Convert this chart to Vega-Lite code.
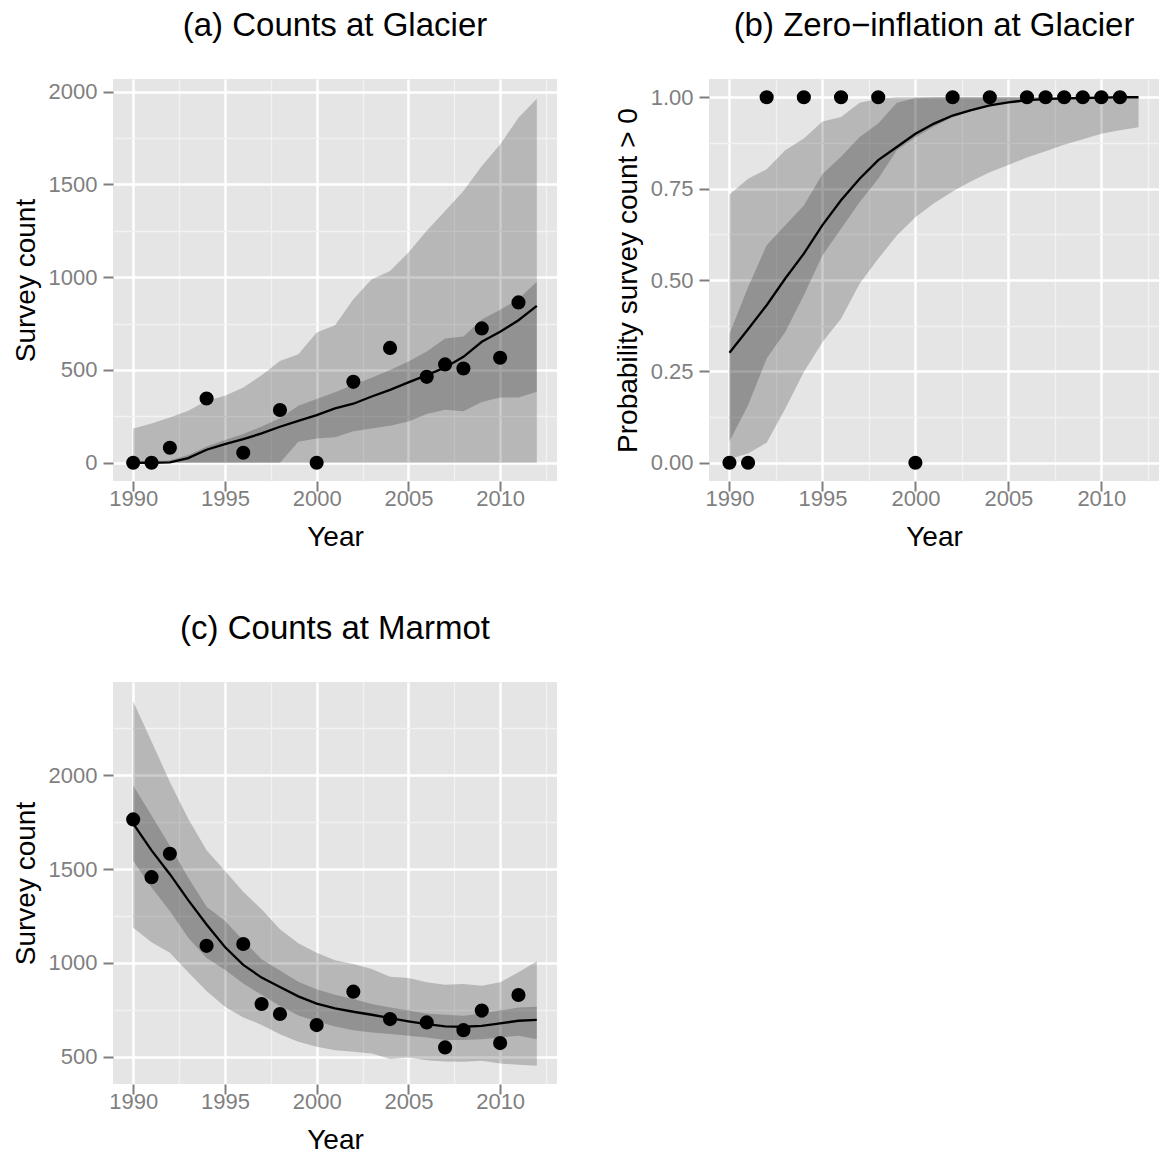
{
  "$schema": "https://vega.github.io/schema/vega-lite/v6.json",
  "padding": {"left": 12, "top": 10, "right": 0, "bottom": 0},
  "background": "white",
  "config": {
    "view": {"fill": "#E5E5E5", "stroke": null},
    "font": "Liberation Sans",
    "axis": {
      "domain": false,
      "grid": true,
      "gridColor": "#FFFFFF",
      "tickColor": "#7F7F7F",
      "tickWidth": 2,
      "tickSize": 10,
      "labelColor": "#7F7F7F",
      "labelFont": "Liberation Sans",
      "labelFontSize": 22,
      "titleFont": "Liberation Sans",
      "titleFontSize": 28,
      "titleFontWeight": "normal",
      "titleColor": "#000000"
    },
    "axisX": {"labelPadding": -3, "titlePadding": 14},
    "axisY": {"labelPadding": 6, "titlePadding": 8},
    "title": {"font": "Liberation Sans", "fontSize": 33, "fontWeight": "normal", "anchor": "middle", "color": "#000000", "offset": 36}
  },
  "datasets": {
    "glacier_band": [
      {"year": 1990, "lo95": 0, "hi95": 185, "lo50": 0, "hi50": 3, "med": 0},
      {"year": 1991, "lo95": 0, "hi95": 212, "lo50": 0, "hi50": 6, "med": 0},
      {"year": 1992, "lo95": 0, "hi95": 244, "lo50": 0, "hi50": 14, "med": 2},
      {"year": 1993, "lo95": 0, "hi95": 280, "lo50": 0, "hi50": 42, "med": 25},
      {"year": 1994, "lo95": 0, "hi95": 334, "lo50": 0, "hi50": 88, "med": 70},
      {"year": 1995, "lo95": 0, "hi95": 361, "lo50": 0, "hi50": 122, "med": 100},
      {"year": 1996, "lo95": 0, "hi95": 406, "lo50": 0, "hi50": 155, "med": 127},
      {"year": 1997, "lo95": 0, "hi95": 472, "lo50": 0, "hi50": 195, "med": 158},
      {"year": 1998, "lo95": 0, "hi95": 549, "lo50": 0, "hi50": 240, "med": 194},
      {"year": 1999, "lo95": 0, "hi95": 585, "lo50": 113, "hi50": 307, "med": 226},
      {"year": 2000, "lo95": 0, "hi95": 702, "lo50": 131, "hi50": 343, "med": 257},
      {"year": 2001, "lo95": 0, "hi95": 741, "lo50": 138, "hi50": 380, "med": 293},
      {"year": 2002, "lo95": 0, "hi95": 881, "lo50": 170, "hi50": 420, "med": 318},
      {"year": 2003, "lo95": 0, "hi95": 989, "lo50": 185, "hi50": 458, "med": 357},
      {"year": 2004, "lo95": 0, "hi95": 1034, "lo50": 200, "hi50": 500, "med": 393},
      {"year": 2005, "lo95": 0, "hi95": 1133, "lo50": 222, "hi50": 545, "med": 433},
      {"year": 2006, "lo95": 0, "hi95": 1250, "lo50": 262, "hi50": 600, "med": 472},
      {"year": 2007, "lo95": 0, "hi95": 1357, "lo50": 285, "hi50": 670, "med": 513},
      {"year": 2008, "lo95": 0, "hi95": 1465, "lo50": 278, "hi50": 680, "med": 571},
      {"year": 2009, "lo95": 0, "hi95": 1600, "lo50": 328, "hi50": 772, "med": 652},
      {"year": 2010, "lo95": 0, "hi95": 1716, "lo50": 352, "hi50": 825, "med": 706},
      {"year": 2011, "lo95": 0, "hi95": 1860, "lo50": 352, "hi50": 882, "med": 768},
      {"year": 2012, "lo95": 0, "hi95": 1962, "lo50": 383, "hi50": 975, "med": 846}
    ],
    "glacier_obs": [
      {"year": 1990, "count": 0},
      {"year": 1991, "count": 0},
      {"year": 1992, "count": 81},
      {"year": 1994, "count": 346},
      {"year": 1996, "count": 54},
      {"year": 1998, "count": 284},
      {"year": 2000, "count": 0},
      {"year": 2002, "count": 436},
      {"year": 2004, "count": 619},
      {"year": 2006, "count": 463},
      {"year": 2007, "count": 530},
      {"year": 2008, "count": 508},
      {"year": 2009, "count": 724},
      {"year": 2010, "count": 566},
      {"year": 2011, "count": 864}
    ],
    "zi_band": [
      {"year": 1990, "lo95": 0.01, "hi95": 0.734, "lo50": 0.058, "hi50": 0.353, "med": 0.301},
      {"year": 1991, "lo95": 0.025, "hi95": 0.777, "lo50": 0.157, "hi50": 0.48, "med": 0.365},
      {"year": 1992, "lo95": 0.055, "hi95": 0.803, "lo50": 0.285, "hi50": 0.595, "med": 0.431},
      {"year": 1993, "lo95": 0.148, "hi95": 0.855, "lo50": 0.358, "hi50": 0.65, "med": 0.504},
      {"year": 1994, "lo95": 0.248, "hi95": 0.887, "lo50": 0.458, "hi50": 0.704, "med": 0.572},
      {"year": 1995, "lo95": 0.33, "hi95": 0.934, "lo50": 0.567, "hi50": 0.79, "med": 0.65},
      {"year": 1996, "lo95": 0.394, "hi95": 0.946, "lo50": 0.64, "hi50": 0.837, "med": 0.718},
      {"year": 1997, "lo95": 0.49, "hi95": 0.985, "lo50": 0.713, "hi50": 0.891, "med": 0.777},
      {"year": 1998, "lo95": 0.558, "hi95": 0.996, "lo50": 0.777, "hi50": 0.928, "med": 0.828},
      {"year": 1999, "lo95": 0.622, "hi95": 1.0, "lo50": 0.855, "hi50": 0.985, "med": 0.864},
      {"year": 2000, "lo95": 0.672, "hi95": 1.0, "lo50": 0.89, "hi50": 0.998, "med": 0.9},
      {"year": 2001, "lo95": 0.71, "hi95": 1.0, "lo50": 0.92, "hi50": 1.0, "med": 0.928},
      {"year": 2002, "lo95": 0.742, "hi95": 1.0, "lo50": 0.945, "hi50": 1.0, "med": 0.95},
      {"year": 2003, "lo95": 0.77, "hi95": 1.0, "lo50": 0.962, "hi50": 1.0, "med": 0.965},
      {"year": 2004, "lo95": 0.795, "hi95": 1.0, "lo50": 0.975, "hi50": 1.0, "med": 0.978},
      {"year": 2005, "lo95": 0.815, "hi95": 1.0, "lo50": 0.984, "hi50": 1.0, "med": 0.986},
      {"year": 2006, "lo95": 0.835, "hi95": 1.0, "lo50": 0.99, "hi50": 1.0, "med": 0.992},
      {"year": 2007, "lo95": 0.852, "hi95": 1.0, "lo50": 0.994, "hi50": 1.0, "med": 0.995},
      {"year": 2008, "lo95": 0.87, "hi95": 1.0, "lo50": 0.996, "hi50": 1.0, "med": 0.997},
      {"year": 2009, "lo95": 0.885, "hi95": 1.0, "lo50": 0.998, "hi50": 1.0, "med": 0.998},
      {"year": 2010, "lo95": 0.9, "hi95": 1.0, "lo50": 0.999, "hi50": 1.0, "med": 0.999},
      {"year": 2011, "lo95": 0.91, "hi95": 1.0, "lo50": 1.0, "hi50": 1.0, "med": 1.0},
      {"year": 2012, "lo95": 0.918, "hi95": 1.0, "lo50": 1.0, "hi50": 1.0, "med": 1.0}
    ],
    "zi_obs": [
      {"year": 1990, "p": 0},
      {"year": 1991, "p": 0},
      {"year": 1992, "p": 1},
      {"year": 1994, "p": 1},
      {"year": 1996, "p": 1},
      {"year": 1998, "p": 1},
      {"year": 2000, "p": 0},
      {"year": 2002, "p": 1},
      {"year": 2004, "p": 1},
      {"year": 2006, "p": 1},
      {"year": 2007, "p": 1},
      {"year": 2008, "p": 1},
      {"year": 2009, "p": 1},
      {"year": 2010, "p": 1},
      {"year": 2011, "p": 1}
    ],
    "marmot_band": [
      {"year": 1990, "lo95": 1187, "hi95": 2393, "lo50": 1545, "hi50": 1946, "med": 1742},
      {"year": 1991, "lo95": 1110, "hi95": 2180, "lo50": 1402, "hi50": 1786, "med": 1600},
      {"year": 1992, "lo95": 1055, "hi95": 1964, "lo50": 1277, "hi50": 1625, "med": 1473},
      {"year": 1993, "lo95": 950, "hi95": 1768, "lo50": 1134, "hi50": 1455, "med": 1335},
      {"year": 1994, "lo95": 850, "hi95": 1600, "lo50": 1027, "hi50": 1300, "med": 1205},
      {"year": 1995, "lo95": 766, "hi95": 1491, "lo50": 964, "hi50": 1225, "med": 1085},
      {"year": 1996, "lo95": 710, "hi95": 1380, "lo50": 890, "hi50": 1120, "med": 990},
      {"year": 1997, "lo95": 670, "hi95": 1286, "lo50": 830, "hi50": 1020, "med": 922},
      {"year": 1998, "lo95": 620, "hi95": 1180, "lo50": 770, "hi50": 960, "med": 872},
      {"year": 1999, "lo95": 580, "hi95": 1105, "lo50": 720, "hi50": 900, "med": 822},
      {"year": 2000, "lo95": 553, "hi95": 1055, "lo50": 690, "hi50": 860, "med": 783},
      {"year": 2001, "lo95": 535, "hi95": 1015, "lo50": 662, "hi50": 830, "med": 758},
      {"year": 2002, "lo95": 527, "hi95": 995, "lo50": 642, "hi50": 808, "med": 740},
      {"year": 2003, "lo95": 518, "hi95": 968, "lo50": 630, "hi50": 781, "med": 724},
      {"year": 2004, "lo95": 488, "hi95": 927, "lo50": 621, "hi50": 763, "med": 706},
      {"year": 2005, "lo95": 496, "hi95": 920, "lo50": 612, "hi50": 746, "med": 689},
      {"year": 2006, "lo95": 482, "hi95": 897, "lo50": 603, "hi50": 731, "med": 674},
      {"year": 2007, "lo95": 475, "hi95": 884, "lo50": 589, "hi50": 724, "med": 662},
      {"year": 2008, "lo95": 473, "hi95": 888, "lo50": 589, "hi50": 719, "med": 660},
      {"year": 2009, "lo95": 479, "hi95": 879, "lo50": 594, "hi50": 731, "med": 665},
      {"year": 2010, "lo95": 464, "hi95": 897, "lo50": 603, "hi50": 746, "med": 678},
      {"year": 2011, "lo95": 457, "hi95": 950, "lo50": 612, "hi50": 763, "med": 692},
      {"year": 2012, "lo95": 452, "hi95": 1009, "lo50": 594, "hi50": 767, "med": 697}
    ],
    "marmot_obs": [
      {"year": 1990, "count": 1765},
      {"year": 1991, "count": 1457},
      {"year": 1992, "count": 1582},
      {"year": 1994, "count": 1091},
      {"year": 1996, "count": 1101},
      {"year": 1997, "count": 781},
      {"year": 1998, "count": 728},
      {"year": 2000, "count": 669},
      {"year": 2002, "count": 847},
      {"year": 2004, "count": 701},
      {"year": 2006, "count": 683},
      {"year": 2007, "count": 550},
      {"year": 2008, "count": 642},
      {"year": 2009, "count": 746},
      {"year": 2010, "count": 573},
      {"year": 2011, "count": 829}
    ]
  },
  "vconcat": [
    {
      "hconcat": [
        {
          "title": "(a) Counts at Glacier",
          "width": 444,
          "height": 402,
          "encoding": {
            "x": {
              "field": "year", "type": "quantitative",
              "scale": {"domain": [1988.9, 2013.1], "nice": false, "zero": false},
              "axis": {
                "title": "Year", "format": "d",
                "values": [1990, 1992.5, 1995, 1997.5, 2000, 2002.5, 2005, 2007.5, 2010, 2012.5],
                "labelExpr": "datum.value % 5 === 0 ? datum.label : ''",
                "gridColor": {"condition": {"test": "datum.value % 5 === 0", "value": "#FFFFFF"}, "value": "#F2F2F2"},
                "gridWidth": {"condition": {"test": "datum.value % 5 === 0", "value": 2.5}, "value": 1.3},
                "tickOpacity": {"condition": {"test": "datum.value % 5 === 0", "value": 1}, "value": 0}
              }
            }
          },
          "layer": [
            {
              "data": {"name": "glacier_band"},
              "mark": {"type": "area", "color": "#000000", "opacity": 0.2},
              "encoding": {
                "y": {
                  "field": "lo95", "type": "quantitative",
                  "scale": {"domain": [-98.5, 2068.5], "nice": false, "zero": false},
                  "axis": {
                    "title": "Survey count", "format": "d",
                    "values": [0, 250, 500, 750, 1000, 1250, 1500, 1750, 2000],
                    "labelExpr": "datum.value % 500 === 0 ? datum.label : ''",
                    "gridColor": {"condition": {"test": "datum.value % 500 === 0", "value": "#FFFFFF"}, "value": "#F2F2F2"},
                    "gridWidth": {"condition": {"test": "datum.value % 500 === 0", "value": 2.5}, "value": 1.3},
                    "tickOpacity": {"condition": {"test": "datum.value % 500 === 0", "value": 1}, "value": 0}
                  }
                },
                "y2": {"field": "hi95"}
              }
            },
            {
              "data": {"name": "glacier_band"},
              "mark": {"type": "area", "color": "#000000", "opacity": 0.2},
              "encoding": {
                "y": {"field": "lo50", "type": "quantitative", "scale": {"domain": [-98.5, 2068.5], "nice": false, "zero": false}, "title": "Survey count"},
                "y2": {"field": "hi50"}
              }
            },
            {
              "data": {"name": "glacier_band"},
              "mark": {"type": "line", "color": "#000000", "strokeWidth": 2.3},
              "encoding": {
                "y": {"field": "med", "type": "quantitative", "scale": {"domain": [-98.5, 2068.5], "nice": false, "zero": false}, "title": "Survey count"}
              }
            },
            {
              "data": {"name": "glacier_obs"},
              "mark": {"type": "circle", "color": "#000000", "opacity": 1, "size": 200},
              "encoding": {
                "y": {"field": "count", "type": "quantitative", "scale": {"domain": [-98.5, 2068.5], "nice": false, "zero": false}, "title": "Survey count"}
              }
            }
          ]
        },
        {
          "title": "(b) Zero\u2212inflation at Glacier",
          "width": 450,
          "height": 402,
          "encoding": {
            "x": {
              "field": "year", "type": "quantitative",
              "scale": {"domain": [1988.9, 2013.1], "nice": false, "zero": false},
              "axis": {
                "title": "Year", "format": "d",
                "values": [1990, 1992.5, 1995, 1997.5, 2000, 2002.5, 2005, 2007.5, 2010, 2012.5],
                "labelExpr": "datum.value % 5 === 0 ? datum.label : ''",
                "gridColor": {"condition": {"test": "datum.value % 5 === 0", "value": "#FFFFFF"}, "value": "#F2F2F2"},
                "gridWidth": {"condition": {"test": "datum.value % 5 === 0", "value": 2.5}, "value": 1.3},
                "tickOpacity": {"condition": {"test": "datum.value % 5 === 0", "value": 1}, "value": 0}
              }
            }
          },
          "layer": [
            {
              "data": {"name": "zi_band"},
              "mark": {"type": "area", "color": "#000000", "opacity": 0.2},
              "encoding": {
                "y": {
                  "field": "lo95", "type": "quantitative",
                  "scale": {"domain": [-0.05, 1.05], "nice": false, "zero": false},
                  "axis": {
                    "title": "Probability survey count > 0", "format": ".2f",
                    "values": [0, 0.125, 0.25, 0.375, 0.5, 0.625, 0.75, 0.875, 1],
                    "labelExpr": "abs(datum.value * 4 - round(datum.value * 4)) < 0.001 ? datum.label : ''",
                    "gridColor": {"condition": {"test": "abs(datum.value * 4 - round(datum.value * 4)) < 0.001", "value": "#FFFFFF"}, "value": "#F2F2F2"},
                    "gridWidth": {"condition": {"test": "abs(datum.value * 4 - round(datum.value * 4)) < 0.001", "value": 2.5}, "value": 1.3},
                    "tickOpacity": {"condition": {"test": "abs(datum.value * 4 - round(datum.value * 4)) < 0.001", "value": 1}, "value": 0}
                  }
                },
                "y2": {"field": "hi95"}
              }
            },
            {
              "data": {"name": "zi_band"},
              "mark": {"type": "area", "color": "#000000", "opacity": 0.2},
              "encoding": {
                "y": {"field": "lo50", "type": "quantitative", "scale": {"domain": [-0.05, 1.05], "nice": false, "zero": false}, "title": "Probability survey count > 0"},
                "y2": {"field": "hi50"}
              }
            },
            {
              "data": {"name": "zi_band"},
              "mark": {"type": "line", "color": "#000000", "strokeWidth": 2.3},
              "encoding": {
                "y": {"field": "med", "type": "quantitative", "scale": {"domain": [-0.05, 1.05], "nice": false, "zero": false}, "title": "Probability survey count > 0"}
              }
            },
            {
              "data": {"name": "zi_obs"},
              "mark": {"type": "circle", "color": "#000000", "opacity": 1, "size": 200},
              "encoding": {
                "y": {"field": "p", "type": "quantitative", "scale": {"domain": [-0.05, 1.05], "nice": false, "zero": false}, "title": "Probability survey count > 0"}
              }
            }
          ]
        }
      ],
      "spacing": 57
    },
    {
      "title": "(c) Counts at Marmot",
      "width": 444,
      "height": 402,
      "encoding": {
        "x": {
          "field": "year", "type": "quantitative",
          "scale": {"domain": [1988.9, 2013.1], "nice": false, "zero": false},
          "axis": {
            "title": "Year", "format": "d",
            "values": [1990, 1992.5, 1995, 1997.5, 2000, 2002.5, 2005, 2007.5, 2010, 2012.5],
            "labelExpr": "datum.value % 5 === 0 ? datum.label : ''",
            "gridColor": {"condition": {"test": "datum.value % 5 === 0", "value": "#FFFFFF"}, "value": "#F2F2F2"},
            "gridWidth": {"condition": {"test": "datum.value % 5 === 0", "value": 2.5}, "value": 1.3},
            "tickOpacity": {"condition": {"test": "datum.value % 5 === 0", "value": 1}, "value": 0}
          }
        }
      },
      "layer": [
        {
          "data": {"name": "marmot_band"},
          "mark": {"type": "area", "color": "#000000", "opacity": 0.2},
          "encoding": {
            "y": {
              "field": "lo95", "type": "quantitative",
              "scale": {"domain": [355, 2497], "nice": false, "zero": false},
              "axis": {
                "title": "Survey count", "format": "d",
                "values": [500, 750, 1000, 1250, 1500, 1750, 2000, 2250],
                "labelExpr": "datum.value % 500 === 0 ? datum.label : ''",
                "gridColor": {"condition": {"test": "datum.value % 500 === 0", "value": "#FFFFFF"}, "value": "#F2F2F2"},
                "gridWidth": {"condition": {"test": "datum.value % 500 === 0", "value": 2.5}, "value": 1.3},
                "tickOpacity": {"condition": {"test": "datum.value % 500 === 0", "value": 1}, "value": 0}
              }
            },
            "y2": {"field": "hi95"}
          }
        },
        {
          "data": {"name": "marmot_band"},
          "mark": {"type": "area", "color": "#000000", "opacity": 0.2},
          "encoding": {
            "y": {"field": "lo50", "type": "quantitative", "scale": {"domain": [355, 2497], "nice": false, "zero": false}, "title": "Survey count"},
            "y2": {"field": "hi50"}
          }
        },
        {
          "data": {"name": "marmot_band"},
          "mark": {"type": "line", "color": "#000000", "strokeWidth": 2.3},
          "encoding": {
            "y": {"field": "med", "type": "quantitative", "scale": {"domain": [355, 2497], "nice": false, "zero": false}, "title": "Survey count"}
          }
        },
        {
          "data": {"name": "marmot_obs"},
          "mark": {"type": "circle", "color": "#000000", "opacity": 1, "size": 200},
          "encoding": {
            "y": {"field": "count", "type": "quantitative", "scale": {"domain": [355, 2497], "nice": false, "zero": false}, "title": "Survey count"}
          }
        }
      ]
    }
  ],
  "spacing": 62
}
